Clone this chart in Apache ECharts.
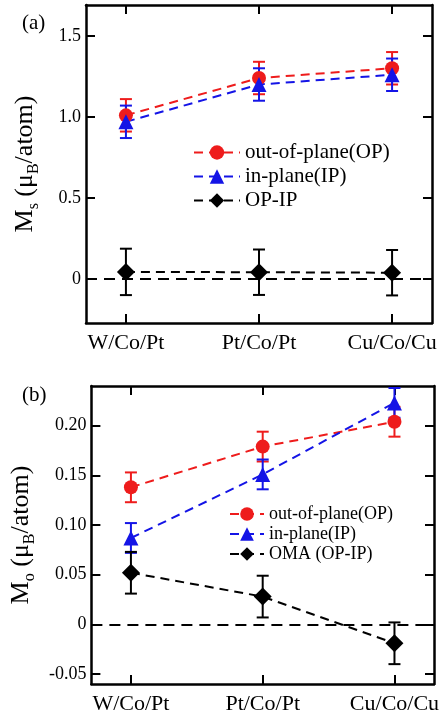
<!DOCTYPE html>
<html><head><meta charset="utf-8">
<script src="https://cdn.jsdelivr.net/npm/echarts@6/dist/echarts.min.js"></script>
<style>html,body{margin:0;padding:0;background:#fff}#c{width:444px;height:717px}</style>
</head><body><div id="c"></div>
<script>
const categories = ['W/Co/Pt', 'Pt/Co/Pt', 'Cu/Co/Cu'];
// panel (a): spin moment
const msOP = [1.01, 1.24, 1.30];
const msOPerr = [0.10, 0.10, 0.10];
const msIP = [0.97, 1.20, 1.26];
const msIPerr = [0.10, 0.10, 0.10];
const msDiff = [0.045, 0.043, 0.040];
const msDiffErr = [0.143, 0.14, 0.14];
// panel (b): orbital moment
const moOP = [0.138, 0.179, 0.204];
const moOPerr = [0.015, 0.015, 0.015];
const moIP = [0.087, 0.151, 0.223];
const moIPerr = [0.015, 0.015, 0.015];
const moOMA = [0.052, 0.028, -0.019];
const moOMAerr = [0.021, 0.021, 0.021];
const msTicks = [0, 0.5, 1.0, 1.5];
const moTicks = [-0.05, 0, 0.05, 0.10, 0.15, 0.20];
const xTicks = [0, 1, 2];

const RED = '#ee1c1c', BLUE = '#1414e6', BLACK = '#000';
const FONT = '"Liberation Serif", "Times New Roman", serif';

const pts = v => categories.map((c, i) => [i, v[i]]);
const errs = (v, e) => categories.map((c, i) => [i, v[i] - e[i], v[i] + e[i]]);

function errRender(color) {
  return function (params, api) {
    const x = api.value(0), lo = api.value(1), hi = api.value(2);
    const p1 = api.coord([x, hi]), p2 = api.coord([x, lo]);
    const w = 6;
    const style = { stroke: color, lineWidth: 2, fill: null };
    return { type: 'group', children: [
      { type: 'line', shape: { x1: p1[0], y1: p1[1], x2: p2[0], y2: p2[1] }, style },
      { type: 'line', shape: { x1: p1[0] - w, y1: p1[1], x2: p1[0] + w, y2: p1[1] }, style },
      { type: 'line', shape: { x1: p2[0] - w, y1: p2[1], x2: p2[0] + w, y2: p2[1] }, style }
    ]};
  };
}

const axLine = { show: true, onZero: false, lineStyle: { color: '#000', width: 2.5 } };
function xAx(grid, pos, labels) {
  return {
    type: 'value', gridIndex: grid, position: pos, min: -0.3, max: 2.3,
    axisLine: axLine, splitLine: { show: false },
    axisTick: { show: true, inside: true, length: 9, lineStyle: { width: 2, color: '#000' }, customValues: xTicks },
    axisLabel: { show: labels, customValues: xTicks, margin: 9, color: '#000', fontSize: 22, fontFamily: FONT,
      formatter: v => categories[Math.round(v)] }
  };
}
function yAx(grid, pos, labels, min, max, ticks, dec, name) {
  const o = {
    type: 'value', gridIndex: grid, position: pos, min, max,
    axisLine: axLine, splitLine: { show: false },
    axisTick: { show: true, inside: true, length: 9, lineStyle: { width: 2, color: '#000' }, customValues: ticks },
    axisLabel: { show: labels, customValues: ticks, margin: 5, color: '#000', fontSize: 18, fontFamily: FONT,
      formatter: v => Math.abs(v) < 1e-9 ? '0' : v.toFixed(dec) }
  };
  if (name) {
    o.name = name; o.nameLocation = 'middle'; o.nameGap = 44; o.nameRotate = 90;
    o.nameTextStyle = { color: '#000', fontFamily: FONT, rich: {
      m: { fontSize: 26, fontFamily: FONT, color: '#000', lineHeight: 34, verticalAlign: 'middle' },
      s: { fontSize: 16, fontFamily: FONT, color: '#000', lineHeight: 34, verticalAlign: 'bottom' }
    }};
  }
  return o;
}

function lineSeries(name, data, color, symbol, size, xi, yi, z) {
  return { type: 'line', name, data, xAxisIndex: xi, yAxisIndex: yi, symbol, symbolSize: size,
    itemStyle: { color }, lineStyle: { color, width: 2, type: [9, 6] }, z: z || 5, animation: false };
}
function errSeries(data, color, xi, yi) {
  return { type: 'custom', data, xAxisIndex: xi, yAxisIndex: yi, renderItem: errRender(color),
    encode: { x: 0, y: [1, 2] }, z: 3, animation: false, silent: true };
}

const zeroLine = { silent: true, symbol: 'none', label: { show: false },
  lineStyle: { color: '#000', width: 2, type: [11, 7] }, data: [{ yAxis: 0 }], animation: false };

const option = {
  backgroundColor: '#fff',
  animation: false,
  title: [
    { text: '(a)', left: 17, top: 8, textStyle: { fontFamily: FONT, fontWeight: 'normal', fontSize: 21, color: '#000' } },
    { text: '(b)', left: 17, top: 380, textStyle: { fontFamily: FONT, fontWeight: 'normal', fontSize: 21, color: '#000' } }
  ],
  grid: [
    { left: 86, top: 5, width: 346, height: 318 },
    { left: 87, top: 386, width: 347, height: 298 }
  ],
  xAxis: [xAx(0, 'bottom', true), xAx(0, 'top', false), xAx(1, 'bottom', true), xAx(1, 'top', false)],
  yAxis: [
    yAx(0, 'left', true, -0.27, 1.69, msTicks, 1, '{m|M}{s|s}{m| (μ}{s|B}{m|/atom)}'),
    yAx(0, 'right', false, -0.27, 1.69, msTicks, 1),
    yAx(1, 'left', true, -0.06, 0.24, moTicks, 2, '{m|M}{s|o}{m| (μ}{s|B}{m|/atom)}'),
    yAx(1, 'right', false, -0.06, 0.24, moTicks, 2)
  ],
  legend: [
    { orient: 'vertical', left: 188, top: 137, itemWidth: 46, itemHeight: 18, itemGap: 3,
      textStyle: { fontFamily: FONT, fontSize: 21, color: '#000' },
      data: ['out-of-plane(OP)', 'in-plane(IP)', 'OP-IP'] },
    { orient: 'vertical', left: 224, top: 500, itemWidth: 34, itemHeight: 17, itemGap: 2,
      textStyle: { fontFamily: FONT, fontSize: 18, color: '#000' },
      data: ['out-of-plane(OP)', 'in-plane(IP)', 'OMA (OP-IP)'] }
  ],
  series: [
    errSeries(errs(msOP, msOPerr), RED, 0, 0),
    errSeries(errs(msIP, msIPerr), BLUE, 0, 0),
    errSeries(errs(msDiff, msDiffErr), BLACK, 0, 0),
    lineSeries('out-of-plane(OP)', pts(msOP), RED, 'circle', 14, 0, 0),
    lineSeries('in-plane(IP)', pts(msIP), BLUE, 'triangle', 15, 0, 0),
    Object.assign(lineSeries('OP-IP', pts(msDiff), BLACK, 'diamond', 18, 0, 0), { markLine: zeroLine }),
    errSeries(errs(moOP, moOPerr), RED, 2, 2),
    errSeries(errs(moIP, moIPerr), BLUE, 2, 2),
    errSeries(errs(moOMA, moOMAerr), BLACK, 2, 2),
    lineSeries('out-of-plane(OP)', pts(moOP), RED, 'circle', 14, 2, 2),
    lineSeries('in-plane(IP)', pts(moIP), BLUE, 'triangle', 15, 2, 2),
    Object.assign(lineSeries('OMA (OP-IP)', pts(moOMA), BLACK, 'diamond', 18, 2, 2), { markLine: zeroLine })
  ]
};
const chart = echarts.init(document.getElementById('c'), null, { renderer: 'canvas' });
chart.setOption(option);
</script>
</body></html>
